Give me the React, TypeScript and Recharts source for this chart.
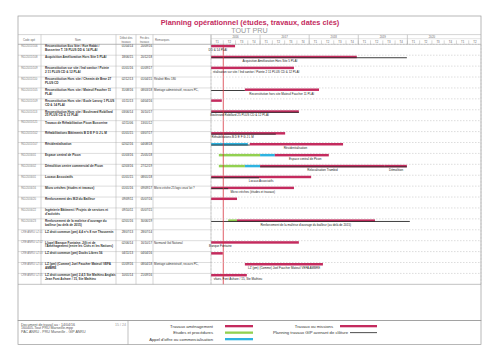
import { BarChart, Bar, XAxis, YAxis, CartesianGrid, ReferenceLine, LabelList } from "recharts";

// ---- table columns
const codes = [
  "961/2015/106", "961/2015/108", "961/2015/109", "961/2015/110", "961/2015/105",
  "961/2015/109", "961/2015/113", "961/2015/121", "961/2015/102", "961/2015/107",
  "961/2016/01", "961/2016/02", "961/2016/01", "961/2016/16", "961/2016/20",
  "961/2016/22", "961/2016/23", "CRE ANRU LZ 01", "CRE ANRU LZ 02", "CRE ANRU LZ 03",
  "CRE ANRU LZ 04", "CRE ANRU LZ 05",
];
const names = [
  "Reconstitution Eco Site / Rue Rabbi / Busserine T. 19 PLUS DD & 14 PLAI",
  "Acquisition Amélioration Hors Site 5 PLAI",
  "Reconstitution sur site / Ind sanitor / Pointe 2 11 PLUS CD & 12 PLAI",
  "Reconstitution Hors site / Chemin de Bear 27 PLUS CD",
  "Reconstitution Hors site / Mateuil Faucher 11 PLAI",
  "Reconstitution Hors site / Ecole Larosy 1 PLUS CD & 14 PLAI",
  "Reconstitution Hors site / Boulevard Robillard 25 PLUS CD & 12 PLAI",
  "Travaux de Réhabilitation Picon Busserine",
  "Réhabilitations Bâtiments B D E F G J L M",
  "Résidentialisation",
  "Espace central de Picon",
  "Démolition centre commercial de Picon",
  "Locaux Associatifs",
  "Micro crèches (études et travaux)",
  "Renforcement des MJI du Bailleur",
  "Ingénierie Bâtiment / Projets de services et d'activités",
  "Renforcement de la maîtrise d'ouvrage du bailleur (au delà de 2015)",
  "LZ droit commun (pm) 4,4 n°s 8 rue Thouvenin",
  "L(ope) Banque Fontaine, Jillt et de l'Aménagement (entre les Cités et les Nations)",
  "LZ droit commun (pm) Docks Libres 56",
  "LZ (pm) (Comme) Joel Faucher Mateuil VEFA AMBRE",
  "LZ droit commun (pm) 2,4,5 Ste Mathieu Anglais Jean Font Ashare / 15, Ste Mathieu",
];
const debuts = [
  "01/04/14", "18/06/15", "01/01/16", "02/12/13", "31/08/16", "01/11/13", "03/06/14", "02/11/06",
  "01/01/15", "02/02/16", "01/03/16", "02/03/16", "01/01/15", "01/01/16", "09/09/11", "09/10/11",
  "02/01/16", "28/07/13", "02/06/14", "04/11/13", "01/09/16", "10/01/14",
];
const fins = [
  "20/09/16", "20/12/18", "01/09/17", "01/04/15", "08/03/18", "04/04/16", "16/10/17", "13/01/12",
  "03/07/17", "04/08/18", "25/05/18", "27/12/19", "08/01/18", "09/09/17", "05/07/16", "05/07/15",
  "30/06/19", "28/07/14", "16/10/17", "04/04/16", "08/04/18", "21/09/16",
];
const remarks = [
  "", "", "", "Réalisé Bleu 180", "Montage administratif, recours PC,", "", "", "",
  "", "", "", "", "", "Micro crèche 25 logs ceux/ lot ?", "", "",
  "", "", "Normand Gol National", "", "Montage administratif, recours PC,", "",
];

// ---- gantt segments, decimal years [start, end]
type Seg = [number, number] | null;
const travaux: Seg[] = [
  [2014.25, 2016.49], [2015.46, 2018.97], [2015.9, 2017.69], null, [2016.69, 2018.2],
  [2013.83, 2016.22], [2014.42, 2017.79], null, [2015.0, 2017.51], [2016.79, 2018.69],
  [2017.3, 2018.4], [2017.0, 2019.54], [2015.0, 2018.04], [2015.9, 2017.69], [2015.5, 2016.53],
  null, [2016.53, 2019.34], null, [2014.42, 2017.79], [2013.84, 2016.24],
  [2016.69, 2018.28], [2014.0, 2016.73],
];
const travaux2: Seg[] = [
  null, null, null, null, null, null, null, null, null, null,
  null, [2019.54, 2019.99], null, null, null, null, null, null, null, null, null, null,
];
const etudes: Seg[] = [
  null, null, null, null, null, null, null, null, null, null,
  [2016.16, 2017.0], [2016.16, 2016.69], null, null, null, null, [2016.35, 2016.53],
  null, null, null, null, null,
];
const appels: Seg[] = [
  null, null, null, null, null, null, null, null, null, [2015.5, 2016.75],
  [2017.0, 2017.3], [2016.69, 2017.0], null, null, null, null, null,
  null, null, null, null, null,
];
const gip: Seg[] = [
  null, [2015.46, 2019.99], null, null, [2015.5, 2016.69], null, [2014.42, 2017.79], null,
  [2015.0, 2017.32], [2015.5, 2016.79], null, [2017.0, 2019.99], [2015.0, 2016.98],
  [2015.8, 2016.35], null, null, [2015.5, 2020.05], null, null, null, null, null,
];
const barLabels = [
  "DD & 14 PLAI", "Acquisition Amélioration Hors Site 5 PLAI",
  "réalisation sur site / Ind sanitor / Pointe 2 11 PLUS CD & 12 PLAI", "",
  "Reconstitution hors site Mateuil Faucher 11 PLAI", "",
  "Boulevard Robillard 25 PLUS CD & 12 PLAI", "", "Réhabilitations B D E F G J L M",
  "Résidentialisation", "Espace central de Picon", "Relocalisation Trambid", "Locaux Associatifs",
  "Micro crèches (études et travaux)", "", "",
  "Renforcement de la maîtrise d'ouvrage du bailleur (au delà de 2015)", "", "Banque Fontaine", "",
  "LZ (pm) (Comme) Joel Faucher Mateuil VEFA AMBRE", "vfaes, Font Ashare / 15, Ste Mathieu",
];
const labelAt = [
  2016.14, 2017.2, 2016.92, null, 2017.44, null, 2016.58, null, 2016.44, 2017.72, 2017.92,
  2018.27, 2017.02, 2016.85, null, null, 2017.93, null, 2016.19, null, 2017.49, 2016.55,
];
const barLabels2 = ["", "", "", "", "", "", "", "", "", "", "", "Démolition", "", "", "", "", "", "", "", "", "", ""];
const labelAt2 = [null, null, null, null, null, null, null, null, null, null, null, 2019.77, null, null, null, null, null, null, null, null, null, null];

const years = [2016, 2017, 2018, 2019, 2020];
const quarterNames = ["T1", "T2", "T3", "T4"];
const today = 2016.25;

const legendLeft = [
  { text: "Travaux aménagement", color: "#c42b5e" },
  { text: "Etudes et procédures", color: "#92d050" },
  { text: "Appel d'offre ou commercialisation", color: "#2eb3e0" },
];
const legendRight = [
  { text: "Travaux ou missions", color: "#c42b5e", line: false },
  { text: "Planning travaux GIP avenant de clôture", color: "#222", line: true },
];

const CRIMSON = "#c42b5e";
const GREEN = "#92d050";
const TEAL = "#2eb3e0";
const GIP = "#2a2a2a";
const FONT = "'Liberation Sans', Arial, sans-serif";

const PLOT_L = 211;
const PLOT_R = 481;
const PLOT_T = 44.3;
const BAND = 10.91;
const PLOT_B = PLOT_T + names.length * BAND;
const QW = (PLOT_R - PLOT_L) / 22;
const YW = QW * 4;
const SHIFT = -3.5;

const half = (s: number | null, w = 0.2): Seg => (s == null ? null : [s - w, s + w]);

const data = names.map((_, i) => ({
  id: String(i),
  travaux: travaux[i] ?? undefined,
  travaux2: travaux2[i] ?? undefined,
  etudes: etudes[i] ?? undefined,
  appels: appels[i] ?? undefined,
  gip: gip[i] ?? undefined,
  lbl: half(labelAt[i]) ?? undefined,
  lblText: barLabels[i],
  lbl2: half(labelAt2[i]) ?? undefined,
  lblText2: barLabels2[i],
}));

const quarterTicks = [...years, 2021].flatMap((y) => [0.125, 0.375, 0.625, 0.875].map((q) => y + q)).filter((v) => v < 2021.5);
const yearTicks = years.map((y) => y + 0.5);
const gridTicks = [...years.slice(1), 2021];

function wrap(text: string, max: number) {
  const out: string[] = [];
  let cur = "";
  text.split(" ").forEach((w) => {
    if ((cur + " " + w).trim().length > max) {
      out.push(cur);
      cur = w;
    } else cur = (cur + " " + w).trim();
  });
  if (cur) out.push(cur);
  return out.slice(0, 2);
}

const segShape = (fill: string) => (p: any) =>
  p.width > 0 ? <rect x={p.x} y={p.y + SHIFT} width={p.width} height={p.height} fill={fill} /> : <g />;

const gipShape = (p: any) =>
  p.width > 0 ? <rect x={p.x} y={p.y + SHIFT + p.height - 0.9} width={p.width} height={0.9} fill={GIP} /> : <g />;

const BarText = (p: any) => {
  if (!p.value) return null;
  return (
    <text x={p.x + p.width / 2} y={p.y + 2.7} fontSize={3} textAnchor="middle" fill="#222" fontFamily={FONT}>
      {p.value}
    </text>
  );
};

const RowTick = (p: any) => {
  const i = Number(p.payload.value);
  const top = p.y - BAND / 2;
  const lines = wrap(names[i], 46);
  return (
    <g fontFamily={FONT}>
      <line x1={18} x2={PLOT_L} y1={top} y2={top} stroke="#bbb" strokeWidth={0.5} />
      <line x1={PLOT_L} x2={PLOT_R} y1={top} y2={top} stroke="#bbb" strokeWidth={0.5} strokeDasharray="1.5 1.5" />
      <text x={21} y={top + 2.8} fontSize={2.7} fill="#777">{codes[i]}</text>
      {lines.map((l, k) => (
        <text key={k} x={45} y={top + 2.9 + k * 3.8} fontSize={3.1} fontWeight="bold" fill="#333">{l}</text>
      ))}
      <text x={133} y={top + 2.9} fontSize={2.9} textAnchor="end" fill="#333">{debuts[i]}</text>
      <text x={152} y={top + 2.9} fontSize={2.9} textAnchor="end" fill="#333">{fins[i]}</text>
      <text x={154} y={top + 2.9} fontSize={2.9} fill="#333">{remarks[i]}</text>
    </g>
  );
};

const QuarterTick = (p: any) => {
  const v = p.payload.value as number;
  const q = Math.round((v - Math.floor(v) - 0.125) * 4);
  return (
    <g>
      <text x={p.x} y={PLOT_T - 1.6} fontSize={2.8} textAnchor="middle" fill="#666" fontFamily={FONT}>{quarterNames[q]}</text>
      <line x1={p.x - QW / 2} x2={p.x - QW / 2} y1={PLOT_T - 4} y2={PLOT_T} stroke="#999" strokeWidth={0.4} />
    </g>
  );
};

const YearTick = (p: any) => {
  const v = p.payload.value as number;
  return (
    <g>
      <text x={p.x} y={PLOT_T - 6.4} fontSize={2.8} textAnchor="middle" fill="#666" fontFamily={FONT}>{Math.floor(v)}</text>
      <line x1={p.x - YW / 2} x2={p.x - YW / 2} y1={PLOT_T - 9.5} y2={PLOT_T} stroke="#999" strokeWidth={0.5} />
    </g>
  );
};

export default function App() {
  return (
    <div style={{ position: "absolute", left: 0, top: 0, width: 500, height: 353, background: "#fff", fontFamily: FONT }}>
      <BarChart
        width={500}
        height={353}
        data={data}
        layout="vertical"
        barSize={2.5}
        barGap={-2.5}
        margin={{ top: PLOT_T - 12, left: 18, right: 500 - PLOT_R, bottom: 353 - PLOT_B }}
      >
        <CartesianGrid xAxisId="g" horizontal={false} stroke="#ccc" strokeWidth={0.6} strokeDasharray="2 1.5" />
        <XAxis xAxisId="q" orientation="top" type="number" domain={[2016, 2021.5]} allowDataOverflow ticks={quarterTicks}
          height={6} tick={QuarterTick} tickLine={false} axisLine={false} interval={0} />
        <XAxis xAxisId="y" orientation="top" type="number" domain={[2016, 2021.5]} allowDataOverflow ticks={yearTicks}
          height={6} tick={YearTick} tickLine={false} axisLine={false} interval={0} />
        <XAxis xAxisId="g" type="number" domain={[2016, 2021.5]} ticks={gridTicks} hide />
        <YAxis type="category" dataKey="id" width={193} tick={RowTick} tickLine={false} axisLine={false} interval={0} />
        <Bar xAxisId="q" dataKey="etudes" shape={segShape(GREEN)} isAnimationActive={false} />
        <Bar xAxisId="q" dataKey="appels" shape={segShape(TEAL)} isAnimationActive={false} />
        <Bar xAxisId="q" dataKey="travaux" shape={segShape(CRIMSON)} isAnimationActive={false} />
        <Bar xAxisId="q" dataKey="travaux2" shape={segShape(CRIMSON)} isAnimationActive={false} />
        <Bar xAxisId="q" dataKey="gip" shape={gipShape} isAnimationActive={false} />
        <Bar xAxisId="q" dataKey="lbl" fill="transparent" isAnimationActive={false}>
          <LabelList dataKey="lblText" content={BarText} />
        </Bar>
        <Bar xAxisId="q" dataKey="lbl2" fill="transparent" isAnimationActive={false}>
          <LabelList dataKey="lblText2" content={BarText} />
        </Bar>
        <ReferenceLine xAxisId="q" x={today} stroke="#d8343f" strokeWidth={0.8} />
      </BarChart>

      <svg width={500} height={353} style={{ position: "absolute", left: 0, top: 0, pointerEvents: "none" }} fontFamily={FONT}>
        {/* frame */}
        <rect x={18} y={16} width={PLOT_R - 18} height={304.5} fill="none" stroke="#999" strokeWidth={0.7} />
        <line x1={18} x2={PLOT_R} y1={34.6} y2={34.6} stroke="#aaa" strokeWidth={0.5} />
        <line x1={PLOT_L} x2={PLOT_R} y1={PLOT_T - 5.6} y2={PLOT_T - 5.6} stroke="#bbb" strokeWidth={0.4} />
        <line x1={18} x2={PLOT_R} y1={PLOT_T} y2={PLOT_T} stroke="#999" strokeWidth={0.5} />
        <line x1={18} x2={PLOT_R} y1={PLOT_B} y2={PLOT_B} stroke="#999" strokeWidth={0.6} />
        {[41, 116, 136, 153, PLOT_L].map((x) => (
          <line key={x} x1={x} x2={x} y1={34.6} y2={PLOT_B} stroke="#aaa" strokeWidth={0.5} />
        ))}
        <text x={250} y={25.3} fontSize={7.4} fontWeight="bold" fill="#c42b5e" textAnchor="middle">
          Planning opérationnel (études, travaux, dates clés)
        </text>
        <text x={249.5} y={33.3} fontSize={7.2} fill="#999" textAnchor="middle">TOUT PRU</text>
        {/* header */}
        <g fontSize={2.8} fill="#666" textAnchor="middle">
          <text x={29} y={40.5}>Code opé</text>
          <text x={78} y={40.5}>Nom</text>
          <text x={126} y={39.3}>Début des</text>
          <text x={126} y={42.6}>travaux</text>
          <text x={144.5} y={39.3}>Fin des</text>
          <text x={144.5} y={42.6}>travaux</text>
          <text x={155} y={40.5} textAnchor="start">Remarques</text>
        </g>
        {/* footer */}
        <rect x={18} y={320.5} width={PLOT_R - 18} height={24} fill="none" stroke="#999" strokeWidth={0.7} />
        <line x1={128} x2={128} y1={320.5} y2={344.5} stroke="#999" strokeWidth={0.6} />
        <g fontSize={3.6} fill="#555">
          <text x={21} y={325.5}>Document de travail au : 14/04/16</text>
          <text x={21} y={329.3}>160405-Tout PRU Marseille.mpp</text>
          <text x={21} y={333.1}>PAC ANRU - PRU Marseille - GIP ANRU</text>
          <text x={126} y={325.5} textAnchor="end" fill="#999">15 / 24</text>
        </g>
        <g fontSize={4.2} fill="#333">
          {legendLeft.map((l, k) => (
            <g key={l.text}>
              <text x={213} y={327.5 + k * 6.5} textAnchor="end">{l.text}</text>
              <rect x={225} y={325 + k * 6.5} width={28} height={2.3} fill={l.color} />
            </g>
          ))}
          {legendRight.map((l, k) => (
            <g key={l.text}>
              <text x={l.line ? 348 : 333} y={327.5 + k * 6.5} textAnchor="end">{l.text}</text>
              {l.line ? (
                <rect x={350} y={325.8 + k * 6.5} width={27} height={0.8} fill={l.color} />
              ) : (
                <rect x={340} y={325 + k * 6.5} width={37} height={2.3} fill={l.color} />
              )}
            </g>
          ))}
        </g>
      </svg>
    </div>
  );
}
